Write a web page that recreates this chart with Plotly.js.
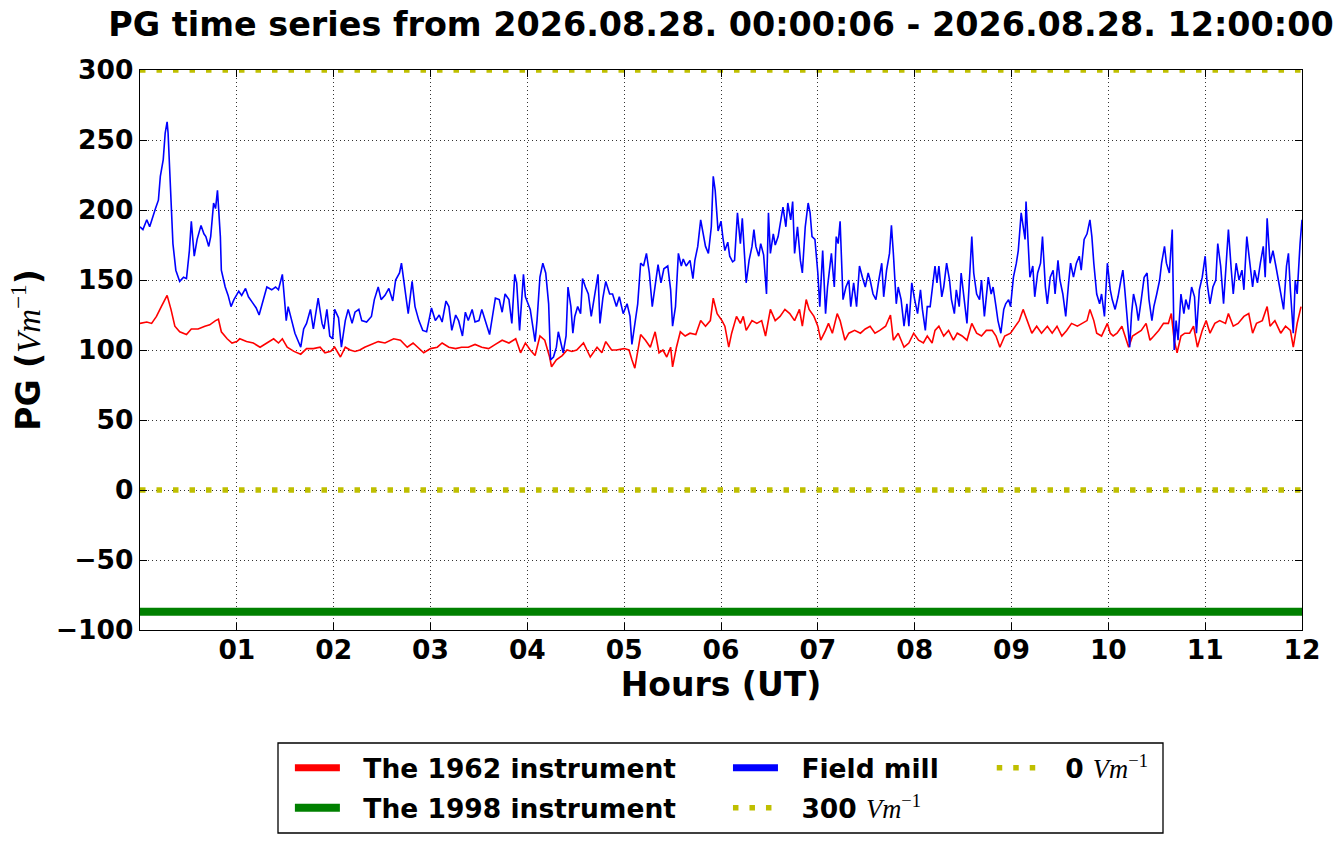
<!DOCTYPE html>
<html>
<head>
<meta charset="utf-8">
<script src="https://cdn.plot.ly/plotly-3.0.1.min.js"></script>
<style>html,body{margin:0;padding:0;background:#fff;}#chart{width:1342px;height:844px;}</style>
</head>
<body>
<div id="chart"></div>
<script>
// ---- data ----
const hoursMill = [
0.00,0.03,0.07,0.10,0.16,0.19,0.21,0.24,0.26,0.28,0.29,0.32,0.34,0.37,0.41,0.45,0.48,0.51,0.53,0.56,
0.59,0.63,0.66,0.68,0.71,0.73,0.76,0.78,0.80,0.83,0.84,0.88,0.91,0.94,0.97,1.02,1.05,1.09,1.12,1.16,
1.20,1.23,1.27,1.31,1.36,1.40,1.43,1.47,1.49,1.51,1.53,1.57,1.60,1.66,1.69,1.72,1.76,1.79,1.82,1.84,
1.88,1.90,1.93,1.96,1.99,
2.01,2.05,2.08,2.12,2.15,2.19,2.22,2.26,2.29,2.34,2.39,2.42,2.46,2.49,2.53,2.57,2.61,2.64,2.68,2.70,
2.74,2.77,2.81,2.84,2.88,2.92,2.96,3.01,3.05,3.09,3.12,3.16,3.19,3.22,3.26,3.29,3.33,3.36,3.39,3.43,
3.46,3.50,3.53,3.57,3.61,3.64,3.67,3.71,3.74,3.77,3.81,3.84,3.87,3.89,3.92,3.96,3.98,4.03,4.06,4.08,
4.10,4.13,4.16,4.19,4.22,4.24,4.27,4.30,4.32,4.35,4.37,4.40,4.42,4.45,4.47,4.49,4.52,4.55,4.57,4.60,
4.63,4.66,4.69,4.73,4.75,4.78,4.81,4.85,4.88,4.92,4.95,4.99,5.03,5.06,5.08,5.11,5.14,5.17,5.20,5.23,
5.26,5.29,5.32,5.35,5.38,5.41,5.45,5.48,5.50,5.53,5.56,5.59,5.61,5.64,5.68,5.71,5.73,5.76,5.79,5.81,
5.84,5.87,5.90,5.92,5.94,5.97,6.00,6.02,
6.04,6.07,6.09,6.12,6.14,6.17,6.20,6.22,6.24,6.26,6.29,6.32,6.34,6.36,6.39,6.41,6.44,6.47,6.49,6.51,
6.54,6.56,6.59,6.62,6.64,6.67,6.69,6.72,6.74,6.76,6.79,6.82,6.84,6.87,6.90,6.92,6.94,6.97,7.00,7.02,
7.05,7.08,7.10,7.14,7.17,7.19,7.21,7.23,7.26,7.29,7.32,7.34,7.37,7.40,7.43,7.46,7.49,7.52,7.54,7.57,
7.60,7.63,7.66,7.68,7.71,7.74,7.76,7.78,7.81,7.83,7.86,7.89,7.92,7.94,7.97,8.00,8.03,
8.06,8.08,8.11,8.13,8.16,8.19,8.21,8.23,8.25,8.28,8.30,8.33,8.36,8.38,8.41,8.43,8.46,8.48,8.51,8.54,
8.56,8.59,8.61,8.64,8.67,8.69,8.72,8.74,8.76,8.79,8.81,8.84,8.86,8.89,8.92,8.94,8.97,8.99,9.02,9.05,
9.07,9.10,9.12,9.14,9.15,9.17,9.19,9.22,9.24,9.27,9.30,9.32,9.35,9.37,9.40,9.43,9.45,9.48,9.50,9.53,
9.56,9.59,9.61,9.64,9.67,9.70,9.72,9.75,9.78,9.81,9.83,9.85,9.88,9.91,9.93,9.96,9.99,
10.02,10.04,10.07,10.10,10.13,10.15,10.17,10.20,10.22,10.24,10.26,10.29,10.31,10.34,10.37,10.40,10.42,10.45,10.47,10.50,
10.53,10.55,10.58,10.60,10.63,10.66,10.68,10.70,10.72,10.75,10.78,10.80,10.83,10.86,10.89,10.91,10.94,10.97,11.00,11.02,
11.05,11.08,11.11,11.13,11.16,11.19,11.22,11.24,11.27,11.29,11.32,11.35,11.38,11.40,11.43,11.46,11.49,11.51,11.54,11.57,
11.60,11.62,11.64,11.67,11.70,11.73,11.75,11.78,11.81,11.84,11.86,11.88,11.91,11.93,11.95,11.98,12.00
];
const pgMill = [
188,186,193,188,201,207,224,236,255,263,255,210,176,157,149,152,151,171,192,167,
179,189,183,181,174,181,205,201,214,181,157,145,139,131,136,142,139,144,138,134,
130,125,136,145,143,145,143,154,138,121,131,119,112,102,115,119,129,115,130,137,
119,115,129,110,108,
129,123,102,121,129,119,127,129,121,120,124,136,145,136,139,144,135,150,155,162,
140,126,149,131,121,114,113,130,121,125,120,135,131,114,125,121,110,127,121,129,
120,121,129,119,111,124,137,136,127,140,136,119,154,148,114,154,138,129,117,106,
121,152,162,155,133,93,95,102,113,104,98,110,145,131,112,124,131,126,151,145,
140,124,136,154,119,137,149,140,140,131,138,126,133,124,104,117,133,162,160,169,
155,131,145,161,148,158,160,143,117,131,169,160,165,160,164,151,164,174,193,185,
174,169,188,224,214,185,192,180,
171,177,167,163,164,198,176,194,169,148,164,174,186,174,167,176,168,140,198,169,
183,175,181,195,202,188,205,193,206,169,188,164,155,188,205,198,181,179,155,131,
171,126,145,169,145,181,176,192,136,145,150,131,148,131,160,152,145,155,150,140,
136,150,162,138,157,169,189,169,133,145,136,117,133,117,148,136,126,
143,129,114,131,131,150,160,148,160,138,145,162,150,136,126,143,131,155,136,119,
143,181,155,140,136,150,124,138,152,140,145,131,121,112,129,133,136,131,152,162,
171,198,188,179,206,183,152,160,138,155,162,181,145,133,152,157,140,164,150,140,
124,148,162,152,162,167,157,179,183,193,181,162,140,133,140,124,162,
143,136,129,138,150,157,143,119,102,126,140,131,121,136,152,155,136,121,131,140,
150,162,174,162,155,186,100,121,107,140,126,136,129,145,138,112,143,152,167,148,
133,145,150,176,160,133,167,186,157,140,162,150,157,143,181,162,145,157,148,162,
174,152,194,162,171,160,152,143,129,160,169,143,112,150,140,176,193
];
const hours1962 = [
0.00,0.07,0.12,0.17,0.22,0.28,0.32,0.36,0.41,0.48,0.53,0.60,0.67,0.72,0.78,0.81,0.84,0.90,0.95,1.00,
1.03,1.10,1.17,1.24,1.31,1.38,1.43,1.47,1.52,1.59,1.66,1.72,1.79,1.86,1.91,1.97,
2.01,2.07,2.12,2.17,2.22,2.27,2.32,2.39,2.46,2.53,2.62,2.69,2.76,2.82,2.88,2.93,3.00,3.07,3.12,3.19,
3.26,3.32,3.39,3.46,3.53,3.60,3.67,3.74,3.81,3.88,3.93,3.98,
4.03,4.08,4.13,4.18,4.23,4.25,4.30,4.36,4.41,4.46,4.51,4.58,4.65,4.72,4.77,4.81,4.87,4.92,5.00,5.05,
5.08,5.11,5.17,5.22,5.27,5.32,5.36,5.40,5.44,5.48,5.50,5.54,5.58,5.63,5.68,5.74,5.79,5.84,5.89,5.92,
5.96,6.01,
6.04,6.08,6.11,6.16,6.20,6.23,6.26,6.32,6.37,6.42,6.46,6.51,6.56,6.61,6.66,6.71,6.76,6.81,6.84,6.88,
6.91,6.96,7.00,7.03,7.08,7.11,7.15,7.20,7.23,7.28,7.32,7.38,7.44,7.49,7.54,7.59,7.64,7.70,7.75,7.78,
7.83,7.89,7.94,7.99,8.04,
8.09,8.13,8.18,8.21,8.25,8.30,8.35,8.40,8.44,8.49,8.54,8.59,8.64,8.69,8.74,8.80,8.84,8.88,8.93,8.99,
9.04,9.08,9.12,9.16,9.21,9.26,9.31,9.37,9.42,9.47,9.52,9.57,9.62,9.68,9.73,9.78,9.81,9.85,9.88,9.93,
9.99,
10.02,10.05,10.09,10.14,10.17,10.21,10.25,10.29,10.34,10.39,10.43,10.47,10.52,10.57,10.62,10.65,10.68,10.71,10.75,10.79,
10.84,10.88,10.92,10.97,11.01,11.05,11.10,11.15,11.21,11.24,11.29,11.34,11.40,11.45,11.49,11.53,11.59,11.64,11.67,11.72,
11.78,11.83,11.88,11.91,11.95,11.99
];
const pg1962 = [
119,120,119,124,131,139,129,117,113,111,115,115,117,118,121,122,113,108,105,106,
108,106,105,102,105,108,105,108,102,99,97,101,101,102,98,99,
102,95,102,100,99,100,102,104,106,105,108,107,102,105,101,98,101,102,105,102,
101,102,102,104,102,101,104,107,105,108,98,105,
100,96,110,107,95,88,93,96,100,99,100,105,95,102,98,106,100,100,101,100,
93,87,111,107,102,113,98,100,95,102,88,102,113,110,112,111,121,117,121,137,
126,121,
117,102,112,124,119,124,114,121,119,121,110,129,121,124,129,126,121,129,117,136,
129,124,117,107,114,119,112,126,121,107,112,114,112,115,117,112,114,117,125,107,
112,102,105,112,107,
105,110,105,114,117,110,114,107,112,110,107,119,112,110,114,114,110,102,110,112,
117,121,129,121,112,117,112,117,112,117,110,114,119,117,119,121,129,121,112,110,
119,
112,110,112,117,110,102,110,112,114,119,107,110,114,119,119,126,107,98,110,112,
112,117,102,114,121,112,119,121,119,126,117,119,124,126,112,119,121,131,117,121,
112,117,114,102,119,131
];
const level1998 = -87;          // The 1998 instrument (flat)
const refLevels = [300, 0];     // reference lines, V/m
const hourSpan = [0, 12];
const xTickVals = [1,2,3,4,5,6,7,8,9,10,11,12];
const xTickText = ['01','02','03','04','05','06','07','08','09','10','11','12'];
const yTickVals = [-100,-50,0,50,100,150,200,250,300];

// ---- styling ----
const YEL = '#bfbf00';
const unit = '<span style="font-family:\'Liberation Serif\',serif;font-style:italic;font-weight:normal">Vm</span><span style="font-family:\'Liberation Serif\',serif;font-weight:normal"><sup>−1</sup></span>';
const F = 'DejaVu Sans, sans-serif';
const GAP = '\u00a0\u00a0';

const traces = [
  {x: hours1962, y: pg1962, type: 'scatter', mode: 'lines', line: {color: '#ff0000', width: 1.6}, showlegend: false, hoverinfo: 'skip'},
  {x: hourSpan, y: [level1998, level1998], type: 'scatter', mode: 'lines', line: {color: '#008000', width: 8},
   name: GAP + 'The 1998 instrument', legend: 'legend2'},
  {x: hoursMill, y: pgMill, type: 'scatter', mode: 'lines', line: {color: '#0000ff', width: 1.6}, showlegend: false, hoverinfo: 'skip'},
  {x: hourSpan, y: [refLevels[0], refLevels[0]], type: 'scatter', mode: 'lines', line: {color: YEL, width: 5.5, dash: '5.5px,11px'},
   name: GAP + '300 ' + unit, legend: 'legend4'},
  {x: hourSpan, y: [refLevels[1], refLevels[1]], type: 'scatter', mode: 'lines', line: {color: YEL, width: 5.5, dash: '5.5px,11px'},
   name: GAP + '0 ' + unit, legend: 'legend5'},
  // legend-only handles (thick lines like the reference legend)
  {x: [null], y: [null], type: 'scatter', mode: 'lines', line: {color: '#ff0000', width: 7}, name: GAP + 'The 1962 instrument', legend: 'legend'},
  {x: [null], y: [null], type: 'scatter', mode: 'lines', line: {color: '#0000ff', width: 7}, name: GAP + 'Field mill', legend: 'legend3'}
];

function leg(xp, yp) {
  return {x: xp, y: yp, xanchor: 'left', yanchor: 'middle', orientation: 'v', bgcolor: 'rgba(0,0,0,0)', borderwidth: 0,
          itemwidth: 45, font: {family: F, size: 26.5, color: '#000', weight: 'bold'}, itemclick: false, itemdoubleclick: false};
}
const r1 = (630 - 768) / 560, r2 = (630 - 808) / 560;

const layout = {
  width: 1342, height: 844,
  margin: {l: 140, r: 40, t: 70, b: 214},
  paper_bgcolor: '#fff', plot_bgcolor: '#fff',
  font: {family: F, color: '#000', weight: 'bold'},
  title: {text: 'PG time series from 2026.08.28. 00:00:06 - 2026.08.28. 12:00:00',
          font: {family: F, size: 33.4, color: '#000', weight: 'bold'},
          x: 0.5, xref: 'paper', xanchor: 'center', y: 0.985, yref: 'container', yanchor: 'top'},
  xaxis: {range: [0, 12], tickvals: xTickVals, ticktext: xTickText, ticks: 'inside', ticklen: 7, tickwidth: 1, tickcolor: '#000',
          showline: true, linecolor: '#000', linewidth: 1.3, mirror: 'ticks', showgrid: true, gridcolor: '#000', gridwidth: 0.8,
          griddash: '1px,3px', zeroline: false, tickfont: {family: F, size: 26.5, weight: 'bold'}, ticklabelstandoff: -4,
          title: {text: 'Hours (UT)', font: {family: F, size: 33, weight: 'bold'}, standoff: 6}, automargin: false},
  yaxis: {range: [-100, 300], tickvals: yTickVals, ticks: 'inside', ticklen: 7, tickwidth: 1, tickcolor: '#000',
          showline: true, linecolor: '#000', linewidth: 1.3, mirror: 'ticks', showgrid: true, gridcolor: '#000', gridwidth: 0.8,
          griddash: '1px,3px', zeroline: false, tickfont: {family: F, size: 26.5, weight: 'bold'},
          title: {text: 'PG (' + unit + ')', font: {family: F, size: 33, weight: 'bold'}, standoff: 5}, automargin: false},
  showlegend: true,
  legend: leg(0.129, r1),
  legend2: leg(0.129, r2),
  legend3: leg(0.506, r1),
  legend4: leg(0.506, r2),
  legend5: leg(0.733, r1),
  shapes: [{type: 'rect', xref: 'paper', yref: 'paper', x0: (278 - 140) / 1162, x1: (1163 - 140) / 1162,
            y0: (630 - 833) / 560, y1: (630 - 743) / 560, line: {color: '#000', width: 1.3}, fillcolor: 'rgba(0,0,0,0)', layer: 'above'}]
};

Plotly.newPlot('chart', traces, layout, {displayModeBar: false, staticPlot: true});
</script>
</body>
</html>
